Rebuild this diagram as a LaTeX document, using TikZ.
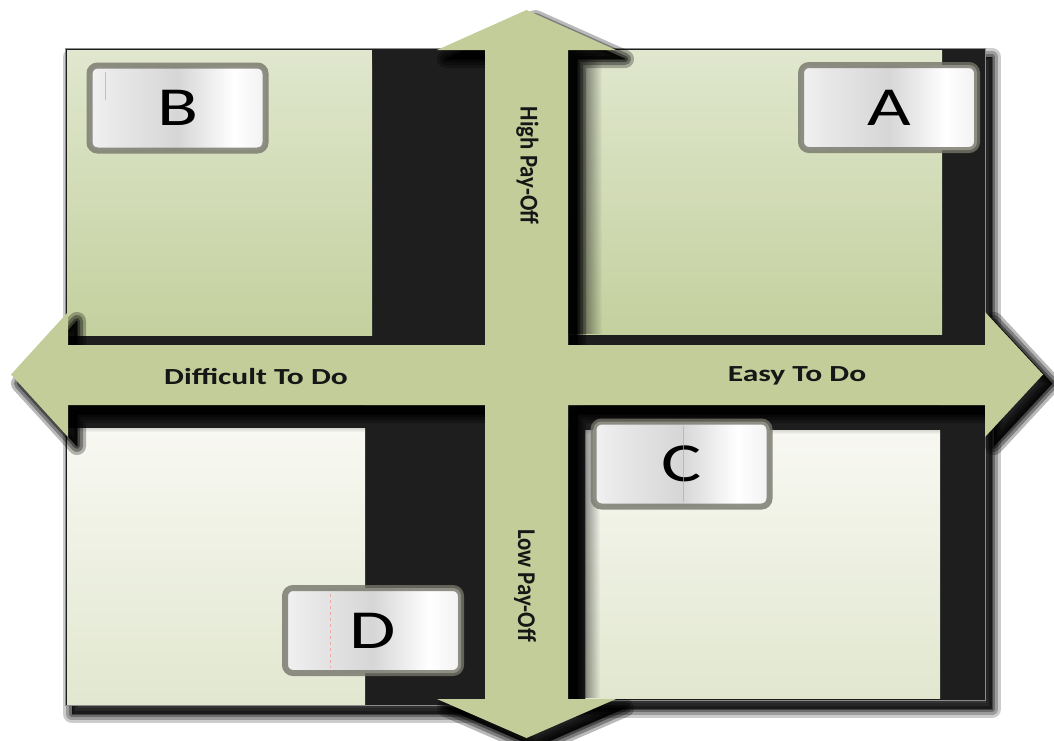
\documentclass[tikz,border=0pt]{standalone}
\usepackage{fontspec}
\setmainfont{Carlito}
\usetikzlibrary{fadings}

\definecolor{arrowgreen}{HTML}{C2CD9A}
\definecolor{pgtop}{HTML}{E0E7CE}
\definecolor{pgbot}{HTML}{C4D09E}
\definecolor{pwtop}{HTML}{F8F8F2}
\definecolor{pwbot}{HTML}{E1E7CF}
\definecolor{ink}{HTML}{1E1E1E}
\definecolor{frameline}{HTML}{8C8C8C}
\definecolor{rim}{HTML}{75756A}
\definecolor{textdark}{HTML}{161616}

% brushed-metal look for the letter tiles
\pgfdeclarehorizontalshading{metal}{100bp}{%
  color(0bp)=(white); color(15bp)=(white); color(32bp)=(black!9);
  color(50bp)=(black!16); color(66bp)=(white); color(84bp)=(black!11);
  color(94bp)=(white); color(100bp)=(white)}

\tikzfading[name=faderight, left color=transparent!0, right color=transparent!100]

\tikzset{
  darkframe/.style={fill=ink, draw=frameline, line width=1pt},
  greenpanel/.style={top color=pgtop, bottom color=pgbot},
  palepanel/.style={top color=pwtop, bottom color=pwbot},
  tile/.style={draw=rim, draw opacity=0.8, line width=6pt, rounded corners=8pt,
    shading=metal, minimum width=176pt, minimum height=85pt, inner sep=0pt,
    text=black, font=\fontsize{55}{55}\selectfont},
  axislabel/.style={text=textdark, font=\bfseries\fontsize{23}{23}\selectfont},
  sidelabel/.style={text=textdark, rotate=-90, font=\bfseries\fontsize{22.8}{22.8}\selectfont},
  crease/.style={draw=red!45, line width=0.8pt, opacity=0.7}
}

\newcommand{\wide}[1]{\scalebox{1.37}[1]{#1}}
\newcommand{\tall}[1]{\scalebox{1}[1.12]{#1}}

% outline of the four-headed axis arrow
\newcommand{\crosspath}{%
  (526.5,10) -- (616,50) -- (568,50) -- (568,345) -- (985,345) -- (985,312)
  -- (1043,374.5) -- (985,437) -- (985,405) -- (568,405) -- (568,699)
  -- (616,699) -- (526.5,738) -- (437,699) -- (485,699) -- (485,405)
  -- (68,405) -- (68,437) -- (11,374.5) -- (68,312) -- (68,345)
  -- (485,345) -- (485,50) -- (437,50) -- cycle}

% soft drop shadow built from stacked translucent strokes
\newcommand{\softshadow}[4]{%
  \begin{scope}[shift={(#1,#2)}]
    \fill[black, opacity=#3*0.5, draw=black, line width=18pt, line join=round] #4;
    \fill[black, opacity=#3*0.6, draw=black, line width=12pt, line join=round] #4;
    \fill[black, opacity=#3*0.75, draw=black, line width=6pt, line join=round] #4;
    \fill[black, opacity=#3, draw=black, line width=1pt, line join=round] #4;
  \end{scope}}

\begin{document}
\begin{tikzpicture}[x=1pt,y=-1pt]
\useasboundingbox (0,0) rectangle (1054,740);
\fill[white] (0,0) rectangle (1054,740);

% ---- quadrant frames (dark backs) with their shadows ----
\softshadow{7}{9}{0.4}{(65,48) rectangle (485,345)}
\softshadow{7}{9}{0.4}{(568,48) rectangle (985,345)}
\softshadow{7}{9}{0.4}{(65,405) rectangle (485,705)}
\softshadow{7}{9}{0.4}{(568,405) rectangle (985,700)}
\path[darkframe] (65,48) rectangle (485,345);
\path[darkframe] (568,48) rectangle (985,345);
\path[darkframe] (65,405) rectangle (485,705);
\path[darkframe] (568,405) rectangle (985,700);

% ---- quadrant panels ----
\shade[greenpanel] (67,50) rectangle (372,335);
\shade[greenpanel] (570,50) rectangle (942,334);
\shade[palepanel] (67,428) rectangle (365,704);
\shade[palepanel] (585,430) rectangle (940,698);

% soft dark edges of the panels
\fill[ink, path fading=faderight] (568,50) rectangle (602,334);
\fill[ink, path fading=faderight] (568,430) rectangle (600,698);
\fill[ink, path fading=south] (67,405) rectangle (365,432);
\fill[ink, path fading=south] (585,405) rectangle (940,434);
\fill[ink, path fading=south] (372,50) rectangle (485,70);

% ---- four-headed axis arrow ----
\softshadow{9}{9}{0.55}{\crosspath}
\fill[arrowgreen] \crosspath;

% ---- axis labels ----
\node[axislabel] (diff) at (256,376) {\wide{Difficult To Do}};
\node[axislabel] (easy) at (797,376) {\wide{Easy To Do}};
\node[sidelabel] (high) at (527.5,165.5) {\tall{High Pay-Off}};
\node[sidelabel] (low) at (525,585.5) {\tall{Low Pay-Off}};

% ---- letter tiles ----
\node[tile] (B) at (177.5,108) {\wide{B}};
\node[tile] (A) at (889,107.5) {\wide{A}};
\node[tile] (C) at (681.5,464) {\wide{C}};
\node[tile] (D) at (373,630.5) {\wide{D}};

% faint creases across the tiles
\draw[crease] (105,72) -- (105,100);
\draw[crease] (683,426) -- (683,502);
\draw[crease, dashed] (330,594) -- (330,668);
\end{tikzpicture}
\end{document}
